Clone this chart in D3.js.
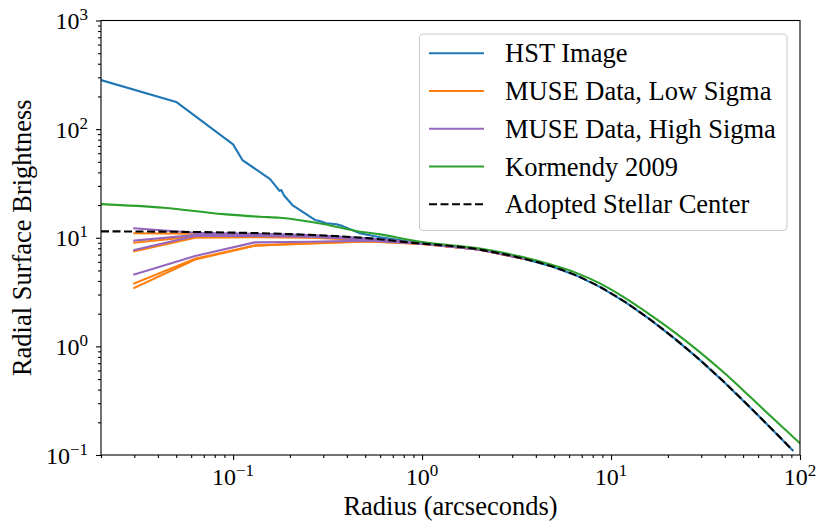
<!DOCTYPE html>
<html><head><meta charset="utf-8">
<script src="https://cdn.jsdelivr.net/npm/d3@7"></script>
<style>
body{margin:0;background:#fff;}
svg text{font-family:"Liberation Serif","Times New Roman",serif;fill:#000;}
</style></head><body>
<svg id="chart" width="831" height="532"></svg>
<script>
// ---------- data ----------
const xDomain = [0.02, 100];
const yDomain = [0.1, 1000];
const xMajorTicks = [0.1, 1, 10, 100];
const yMajorTicks = [0.1, 1, 10, 100, 1000];
const xTickExponents = ["\u22121", "0", "1", "2"];
const yTickExponents = ["\u22121", "0", "1", "2", "3"];

const hstRadius     = [0.02, 0.05, 0.1, 0.112, 0.157, 0.176, 0.18, 0.186, 0.206, 0.271, 0.29, 0.31, 0.353, 0.38, 0.469, 0.6, 0.8, 1.0, 1.245, 2.025, 2.58, 3.5, 4.75, 6.44, 8.73, 11.84, 16.06, 21.8, 29.5, 40.1, 54.3, 73.6, 91.4];
const hstBrightness = [283, 178, 72.4, 51.9, 34.7, 27.0, 27.5, 24.5, 20.0, 14.6, 14.2, 13.6, 13.3, 12.8, 11.0, 10.1, 9.4, 8.83, 8.57, 7.78, 7.18, 6.37, 5.51, 4.55, 3.53, 2.57, 1.773, 1.172, 0.751, 0.461, 0.2758, 0.1623, 0.1107];

const museRadius = [0.03, 0.063, 0.13, 0.26, 0.52, 1.0, 2.0, 3.5];
const museLow1  = [11.0, 10.9, 10.7, 10.4, 9.8, 8.85, 7.8, 6.37];
const museLow2  = [9.0, 10.3, 10.3, 10.1, 9.6, 8.8, 7.8, 6.37];
const museLow3  = [7.5, 10.0, 10.1, 10.0, 9.5, 8.8, 7.8, 6.37];
const museLow4  = [3.8, 6.4, 8.5, 8.9, 9.3, 8.75, 7.8, 6.37];
const museLow5  = [3.45, 6.3, 8.45, 8.85, 9.25, 8.75, 7.8, 6.37];
const museHigh1 = [12.2, 11.1, 10.9, 10.6, 9.9, 8.9, 7.85, 6.4];
const museHigh2 = [9.4, 10.6, 10.6, 10.3, 9.7, 8.85, 7.85, 6.4];
const museHigh3 = [7.7, 10.4, 10.4, 10.2, 9.6, 8.8, 7.8, 6.4];
const museHigh4 = [4.6, 6.8, 9.07, 9.2, 9.4, 8.8, 7.8, 6.4];

const kormendyRadius     = [0.02, 0.043, 0.089, 0.139, 0.177, 0.30, 0.47, 0.6, 0.863, 1.0, 2.025, 3.5, 4.75, 6.44, 8.73, 11.84, 16.06, 21.8, 29.5, 40.1, 54.3, 73.6, 100];
const kormendyBrightness = [20.4, 18.9, 16.5, 15.6, 15.3, 13.4, 11.36, 10.75, 9.53, 9.13, 7.95, 6.57, 5.69, 4.80, 3.80, 2.797, 1.963, 1.340, 0.886, 0.5617, 0.345, 0.2096, 0.128];

const adoptedRadius     = [0.02, 0.05, 0.1, 0.2, 0.53, 1.0, 1.245, 2.025, 2.58, 3.5, 4.75, 6.44, 8.73, 11.84, 16.06, 21.8, 29.5, 40.1, 54.3, 73.6, 91.4];
const adoptedBrightness = [11.45, 11.35, 11.15, 10.8, 9.87, 8.83, 8.57, 7.78, 7.18, 6.37, 5.51, 4.55, 3.53, 2.57, 1.773, 1.172, 0.751, 0.461, 0.2758, 0.1623, 0.1107];

const legendLabels = ["HST Image", "MUSE Data, Low Sigma", "MUSE Data, High Sigma", "Kormendy 2009", "Adopted Stellar Center"];
const legendColors = ["#1f77b4", "#ff7f0e", "#9467bd", "#2ca02c", "#000000"];

// ---------- layout ----------
const L = 101, R = 800, T = 20.5, B = 455;
const svg = d3.select("#chart");
const x = d3.scaleLog().domain(xDomain).range([L, R]);
const y = d3.scaleLog().domain(yDomain).range([B, T]);

function minorTicks(domain) {
  const out = [];
  const lo = Math.floor(Math.log10(domain[0])), hi = Math.ceil(Math.log10(domain[1]));
  for (let k = lo; k < hi; k++) for (let m = 2; m <= 9; m++) {
    const v = m * Math.pow(10, k);
    if (v >= domain[0] * 0.9999 && v <= domain[1] * 1.0001) out.push(v);
  }
  return out;
}

svg.append("defs").append("clipPath").attr("id", "clip")
  .append("rect").attr("x", L).attr("y", T).attr("width", R - L).attr("height", B - T);

const plot = svg.append("g").attr("clip-path", "url(#clip)");
const line = d3.line().x(d => x(d[0])).y(d => y(d[1]));
const smooth = d3.line().x(d => x(d[0])).y(d => y(d[1])).curve(d3.curveMonotoneX);
const zip = (a, b) => a.map((v, i) => [v, b[i]]);

function draw(gen, data, color, dash) {
  const p = plot.append("path").datum(data).attr("d", gen)
    .attr("fill", "none").attr("stroke", color).attr("stroke-width", 2.1)
    .attr("stroke-linejoin", "round").attr("stroke-linecap", dash ? "butt" : "square");
  if (dash) p.attr("stroke-dasharray", dash);
}

draw(line, zip(hstRadius, hstBrightness), legendColors[0]);
[museLow1, museLow2, museLow3, museLow4, museLow5].forEach(s => draw(line, zip(museRadius, s), legendColors[1]));
[museHigh1, museHigh2, museHigh3, museHigh4].forEach(s => draw(line, zip(museRadius, s), legendColors[2]));
draw(smooth, zip(kormendyRadius, kormendyBrightness), legendColors[3]);
draw(smooth, zip(adoptedRadius, adoptedBrightness), legendColors[4], "8,3.5");

// ---------- axes ----------
const axX = svg.append("g").attr("transform", `translate(0,${B})`);
axX.call(d3.axisBottom(x).tickValues(xMajorTicks).tickSize(5).tickFormat(""));
axX.call(g => g.append("g").call(d3.axisBottom(x).tickValues(minorTicks(xDomain)).tickSize(3).tickFormat("")));
const axY = svg.append("g").attr("transform", `translate(${L},0)`);
axY.call(d3.axisLeft(y).tickValues(yMajorTicks).tickSize(5).tickFormat(""));
axY.call(g => g.append("g").call(d3.axisLeft(y).tickValues(minorTicks(yDomain)).tickSize(3).tickFormat("")));
svg.selectAll(".domain").remove();
svg.selectAll(".tick line").attr("stroke", "#000").attr("stroke-width", 1.1);

svg.append("rect").attr("x", L).attr("y", T).attr("width", R - L).attr("height", B - T)
  .attr("fill", "none").attr("stroke", "#000").attr("stroke-width", 1.1);

// tick labels
xMajorTicks.forEach((v, i) => {
  const t = svg.append("text").attr("x", x(v)).attr("y", B + 30).attr("text-anchor", "middle").attr("font-size", 24);
  t.append("tspan").text("10");
  t.append("tspan").attr("dy", -9).attr("font-size", 17).text(xTickExponents[i]);
});
yMajorTicks.forEach((v, i) => {
  const t = svg.append("text").attr("x", L - 13).attr("y", y(v) + 8.5).attr("text-anchor", "end").attr("font-size", 24);
  t.append("tspan").text("10");
  t.append("tspan").attr("dy", -9).attr("font-size", 17).text(yTickExponents[i]);
});

// axis titles
svg.append("text").attr("x", (L + R) / 2).attr("y", 515).attr("text-anchor", "middle")
  .attr("font-size", 26.5).text("Radius (arcseconds)");
svg.append("text").attr("transform", `translate(31,${(T + B) / 2}) rotate(-90)`).attr("text-anchor", "middle")
  .attr("font-size", 26.5).text("Radial Surface Brightness");

// ---------- legend ----------
const lg = svg.append("g");
lg.append("rect").attr("x", 419.5).attr("y", 34).attr("width", 367.5).attr("height", 196.5).attr("rx", 4)
  .attr("fill", "#fff").attr("fill-opacity", 0.8).attr("stroke", "#cccccc").attr("stroke-width", 1.1);
legendLabels.forEach((lab, i) => {
  const yy = 53.3 + i * 37.75;
  const ln = lg.append("line").attr("x1", 429).attr("x2", 484).attr("y1", yy).attr("y2", yy)
    .attr("stroke", legendColors[i]).attr("stroke-width", 2.1);
  if (i === 4) ln.attr("stroke-dasharray", "8,3.5");
  lg.append("text").attr("x", 505).attr("y", yy + 9).attr("font-size", 26.5).text(lab);
});
</script>
</body></html>
